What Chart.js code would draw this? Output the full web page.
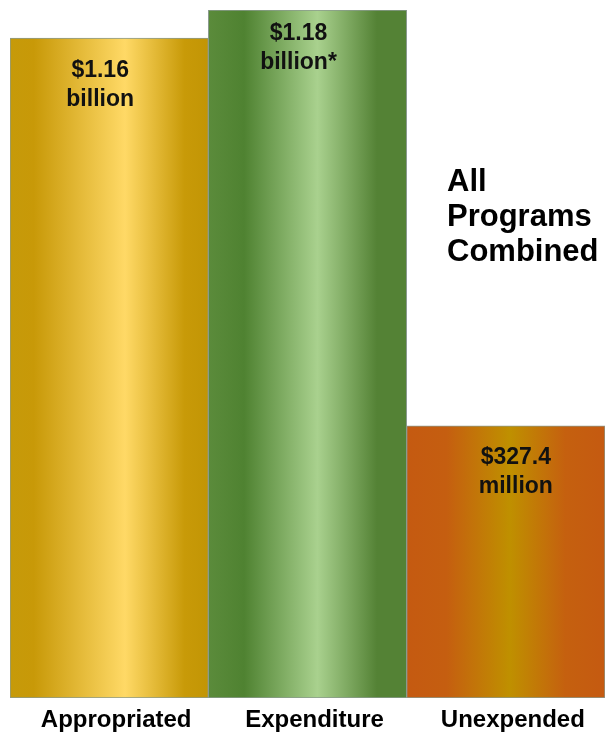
<!DOCTYPE html>
<html>
<head>
<meta charset="utf-8">
<script src="https://cdn.jsdelivr.net/npm/chart.js@4"></script>
<style>
  html, body { margin: 0; padding: 0; background: #fff; }
  canvas { display: block; }
</style>
</head>
<body>
<canvas id="chart" width="605" height="735"></canvas>
<script>
// categories along the bottom
const categories = ['Appropriated', 'Expenditure', 'Unexpended']
// bar heights as drawn in the picture (billions, not to scale with the labels)
const barHeights = [1.132, 1.18, 0.467]
// the text printed inside each bar
const amountLines = ['$1.16', '$1.18', '$327.4']
const unitLines = ['billion', 'billion*', 'million']
const sideTitle = ['All', 'Programs', 'Combined']

const FONT = '"Liberation Sans", Arial, sans-serif'

//gradient stops per bar, left edge -> right edge
const gradients = [
  [[0, '#C69A0A'], [0.12, '#C89908'], [0.58, '#FFD966'], [0.88, '#C89A08'], [1, '#C29505']],
  [[0, '#5B8B3B'], [0.18, '#4F8231'], [0.55, '#A9D18E'], [0.85, '#548235'], [1, '#548235']],
  [[0, '#C55A11'], [0.2, '#C55E10'], [0.52, '#BF9000'], [0.8, '#C5600F'], [1, '#C55A11']],
]

let barFill = function (ctx) {
  let chart = ctx.chart
  let i = ctx.dataIndex
  let stops = gradients[i]
  if (!chart.chartArea || !chart.scales.x) return stops[2][1]
  let x = chart.scales.x
  let half = (x.getPixelForValue(1) - x.getPixelForValue(0)) / 2
  let cx = x.getPixelForValue(i)
  let g = chart.ctx.createLinearGradient(cx - half, 0, cx + half, 0)
  stops.forEach((s) => g.addColorStop(s[0], s[1]))
  return g
}

//text inside bars and the side title
const barText = {
  id: 'barText',
  afterDatasetsDraw(chart) {
    let c = chart.ctx
    let meta = chart.getDatasetMeta(0)
    let firstOffset = [33, 24, 32]
    let shiftX = [-9, -9, 10]
    c.save()
    c.fillStyle = '#111'
    c.textAlign = 'center'
    c.textBaseline = 'middle'
    c.font = 'bold 23px ' + FONT
    meta.data.forEach((bar, i) => {
      let y = bar.y + firstOffset[i]
      c.fillText(amountLines[i], bar.x + shiftX[i], y)
      c.fillText(unitLines[i], bar.x + shiftX[i], y + 29)
    })
    c.textAlign = 'left'
    c.textBaseline = 'top'
    c.font = 'bold 31px ' + FONT
    c.fillStyle = '#000'
    sideTitle.forEach((t, k) => {
      c.fillText(t, 447, 167 + k * 35)
    })
    c.restore()
  },
}

new Chart(document.getElementById('chart').getContext('2d'), {
  type: 'bar',
  data: {
    labels: categories,
    datasets: [
      {
        data: barHeights,
        backgroundColor: barFill,
        borderColor: '#8A9A8E',
        borderWidth: 1,
        borderSkipped: false,
        categoryPercentage: 1,
        barPercentage: 1,
      },
    ],
  },
  options: {
    responsive: false,
    animation: false,
    layout: { padding: { left: 10, top: 10, right: 0, bottom: 1 } },
    scales: {
      x: {
        grid: { display: false, drawTicks: false },
        border: { display: false },
        afterFit: (scale) => {
          scale.height = 36
        },
        ticks: {
          color: '#000',
          padding: 8,
          labelOffset: 7,
          font: { family: FONT, size: 24, weight: 'bold' },
        },
      },
      y: { display: false, min: 0, max: 1.18 },
    },
    plugins: {
      legend: { display: false },
      tooltip: { enabled: false },
      title: { display: false },
    },
  },
  plugins: [barText],
})
</script>
</body>
</html>
